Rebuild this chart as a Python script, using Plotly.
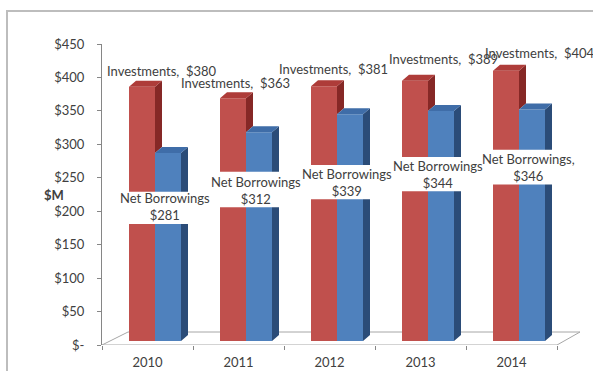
import plotly.graph_objects as go

# ---- data -------------------------------------------------------------
years = ["2010", "2011", "2012", "2013", "2014"]
investments = [380, 363, 381, 389, 404]
net_borrowings = [281, 312, 339, 344, 346]
# each column is broken over this value band, where the borrowings label sits
break_low = [175, 200, 212, 224, 234]
break_high = [223, 253, 263, 275, 286]

y_tick_vals = [0, 50, 100, 150, 200, 250, 300, 350, 400, 450]
y_tick_text = ["$-", "$50", "$100", "$150", "$200", "$250", "$300", "$350", "$400", "$450"]

# ---- layout geometry (pixels) -----------------------------------------
FIG_W, FIG_H = 593, 371
PL, PR, PT, PB = 102, 580, 44, 345          # plot area edges
SLOT = 91.0                                  # px per category
PPU = (PB - PT) / 450.0                      # px per $M
BAR_BASE_PX = 341                            # bars stand a little behind the front edge
W = PR - PL
H = PB - PT

x_range = [-0.5, -0.5 + W / SLOT]
y2_range = [-(PB - BAR_BASE_PX) / PPU, (BAR_BASE_PX - PT) / PPU]

bar_w = 26 / SLOT
red_off = -18.5 / SLOT
blue_off = red_off + bar_w
dx = 7 / SLOT          # depth shift of the 3-D faces
dy = 6 / PPU

RED, RED_TOP, RED_SIDE = "#C0504D", "#AE3C39", "#862826"
BLUE, BLUE_TOP, BLUE_SIDE = "#4F81BD", "#3F6DA8", "#2B4C78"
TXT = "#404040"
FONT = "Lato"
FS = 13

inv_label_dx = [14.5, -3.5, 3.5, 22.5, 28.5]   # px
inv_label_dy = [16, 15, 17, 22, 18]            # px above bar top

fig = go.Figure()

# front faces: lower and upper pieces of each broken column
for vals, off, col, name in [(investments, red_off, RED, "Investments"),
                             (net_borrowings, blue_off, BLUE, "Net Borrowings")]:
    xs = list(range(len(years)))
    fig.add_trace(go.Bar(x=xs, y=break_low, base=[0] * len(xs), width=bar_w, offset=off,
                         marker=dict(color=col, line=dict(width=0)), yaxis="y2",
                         name=name, showlegend=False, hoverinfo="skip"))
    fig.add_trace(go.Bar(x=xs, y=[v - b for v, b in zip(vals, break_high)], base=break_high,
                         width=bar_w, offset=off, marker=dict(color=col, line=dict(width=0)),
                         yaxis="y2", name=name, showlegend=False, hoverinfo="skip"))


def polys(shapes):
    xs, ys = [], []
    for pts in shapes:
        for px, py in pts + [pts[0]]:
            xs.append(px)
            ys.append(py)
        xs.append(None)
        ys.append(None)
    return xs, ys


red_side, red_top, blue_side, blue_top = [], [], [], []
for i in range(len(years)):
    rv, bv = investments[i], net_borrowings[i]
    lo, hi = break_low[i], break_high[i]
    rl = i + red_off
    rr = rl + bar_w
    bl = rr
    br = bl + bar_w
    # red side visible above the blue column
    red_side.append([(rr, bv), (rr + dx, bv + dy), (rr + dx, rv + dy), (rr, rv)])
    red_top.append([(rl, rv), (rr, rv), (rr + dx, rv + dy), (rl + dx, rv + dy)])
    # blue side, lower and upper pieces
    blue_side.append([(br, 0), (br + dx, dy), (br + dx, lo), (br, lo)])
    blue_side.append([(br, hi), (br + dx, hi), (br + dx, bv + dy), (br, bv)])
    blue_top.append([(bl, bv), (br, bv), (br + dx, bv + dy), (bl + dx, bv + dy)])

for shapes, col in [(red_side, RED_SIDE), (red_top, RED_TOP),
                    (blue_side, BLUE_SIDE), (blue_top, BLUE_TOP)]:
    px, py = polys(shapes)
    fig.add_trace(go.Scatter(x=px, y=py, mode="lines", fill="toself", fillcolor=col,
                             line=dict(width=0, color=col), yaxis="y2",
                             showlegend=False, hoverinfo="skip"))

# floor of the 3-D plot (drawn beneath the columns)
back_h = 13 / PPU
floor_path = (f"M -0.5,0 L 4.5,0 L {4.5 + 23 / SLOT},{back_h} "
              f"L {-0.5 + 26 / SLOT},{back_h} Z")
shapes = [
    dict(type="path", path=floor_path, xref="x", yref="y", layer="below",
         line=dict(color="#A6A6A6", width=1), fillcolor="rgba(0,0,0,0)"),
    # chart frame
    dict(type="rect", xref="paper", yref="paper",
         x0=(7 - PL) / W, x1=(620 - PL) / W, y0=(PB - 400) / H, y1=(PB - 11) / H,
         line=dict(color="#BDBDBD", width=2), layer="below"),
]

annotations = []
for i, v in enumerate(investments):
    annotations.append(dict(x=i + inv_label_dx[i] / SLOT, y=v, xref="x", yref="y2",
                            yshift=inv_label_dy[i], showarrow=False,
                            text=f"Investments,\u00a0 ${v}",
                            font=dict(family=FONT, size=FS, color=TXT)))
for i, v in enumerate(net_borrowings):
    head = "Net Borrowings," if i == len(years) - 1 else "Net Borrowings"
    annotations.append(dict(x=i + 17 / SLOT, y=break_low[i], xref="x", yref="y2",
                            yshift=17, showarrow=False, text=f"{head}<br>${v}",
                            font=dict(family=FONT, size=FS, color=TXT)))
annotations.append(dict(x=(42 - PL) / W, y=(PB - 195) / H, xref="paper", yref="paper",
                        showarrow=False, text="<b>$M</b>",
                        font=dict(family=FONT, size=FS, color=TXT)))

fig.update_layout(
    width=FIG_W, height=FIG_H,
    margin=dict(l=PL, r=FIG_W - PR, t=PT, b=FIG_H - PB, pad=0, autoexpand=False),
    paper_bgcolor="white", plot_bgcolor="white",
    barmode="overlay",
    showlegend=False,
    shapes=shapes,
    annotations=annotations,
    xaxis=dict(range=x_range, tickmode="array", tickvals=list(range(len(years))),
               ticktext=years, ticks="", showline=False, showgrid=False, zeroline=False,
               tickfont=dict(family=FONT, size=FS, color=TXT), ticklabelstandoff=8,
               automargin=False,
               minor=dict(tickmode="array", tickvals=[k - 0.5 for k in range(len(years) + 1)],
                          ticks="outside", ticklen=4, tickcolor="#868686", showgrid=False),
               fixedrange=True),
    yaxis=dict(range=[0, 450], tickmode="array", tickvals=y_tick_vals, ticktext=y_tick_text,
               showline=True, linecolor="#868686", linewidth=1, ticks="outside", ticklen=4,
               tickcolor="#868686", showgrid=False, zeroline=False, ticklabelstandoff=10,
               automargin=False,
               tickfont=dict(family=FONT, size=FS, color=TXT), fixedrange=True),
    yaxis2=dict(range=y2_range, overlaying="y", visible=False, fixedrange=True,
                automargin=False),
)

fig.write_html("out.html")
